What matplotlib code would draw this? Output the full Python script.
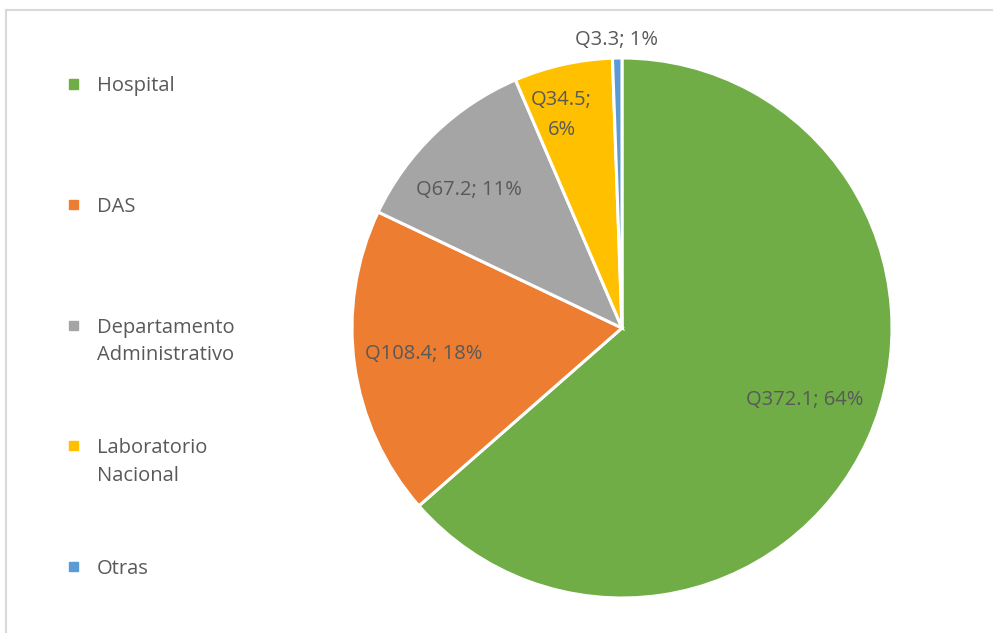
import numpy as np
import matplotlib.pyplot as plt
from matplotlib.patches import Rectangle
from matplotlib.lines import Line2D

categorias = ['Hospital', 'DAS', 'Departamento\nAdministrativo', 'Laboratorio\nNacional', 'Otras']
valores = [372.1, 108.4, 67.2, 34.5, 3.3]
porcentajes = ['64%', '18%', '11%', '6%', '1%']
colores = ['#70AD47', '#ED7D31', '#A5A5A5', '#FFC000', '#5B9BD5']

plt.rcParams['font.family'] = ['Open Sans', 'DejaVu Sans']
gris = '#595959'
fs = 14.5
baja = 2.5  # px, ajuste vertical del texto

W, H = 993, 633
fig = plt.figure(figsize=(W / 100, H / 100), dpi=100)

# pie: centro (622, 328) px, radio 270 px
cx, cy, r = 622, 328, 270
ax = fig.add_axes([(cx - r) / W, (H - cy - r) / H, 2 * r / W, 2 * r / H])
wedges, _ = ax.pie(valores, colors=colores, startangle=90, counterclock=False,
                   wedgeprops=dict(edgecolor='white', linewidth=2.2))
ax.set_xlim(-1, 1)
ax.set_ylim(-1, 1)
ax.set_aspect('equal')

# etiquetas
rad_lab = [0.726, 0.74, 0.77, 0.83, 1.075]
desv_ang = [3.5, -1, 3.5, 3, 0]
for i, w in enumerate(wedges):
    ang = np.deg2rad((w.theta1 + w.theta2) / 2 + desv_ang[i])
    x, y = rad_lab[i] * np.cos(ang), rad_lab[i] * np.sin(ang)
    if i == 3:
        lineas = ['Q%s;' % valores[i], porcentajes[i]]
    else:
        lineas = ['Q%s; %s' % (valores[i], porcentajes[i])]
    n = len(lineas)
    for k, t in enumerate(lineas):
        dy = ((k - (n - 1) / 2) * 30 + baja) / r  # 30 px entre lineas
        ax.text(x, y - dy, t, ha='center', va='center', fontsize=fs,
                color=gris, clip_on=False)

# leyenda
for i, c in enumerate(categorias):
    y = 84 + 120.5 * i
    fig.add_artist(Rectangle(((73 - 4.5) / W, (H - y - 4.5) / H), 9 / W, 9 / H,
                             color=colores[i], transform=fig.transFigure))
    for k, t in enumerate(c.split('\n')):
        fig.text(97 / W, (H - y - 28 * k - baja) / H, t, ha='left', va='center',
                 fontsize=fs, color=gris)

# borde
fig.add_artist(Line2D([6 / W, 6 / W], [0, (H - 10) / H], color='#D9D9D9', lw=1.5,
                      transform=fig.transFigure))
fig.add_artist(Line2D([6 / W, 1], [(H - 10) / H, (H - 10) / H], color='#D9D9D9', lw=1.5,
                      transform=fig.transFigure))

fig.savefig('out.png', dpi=100)
